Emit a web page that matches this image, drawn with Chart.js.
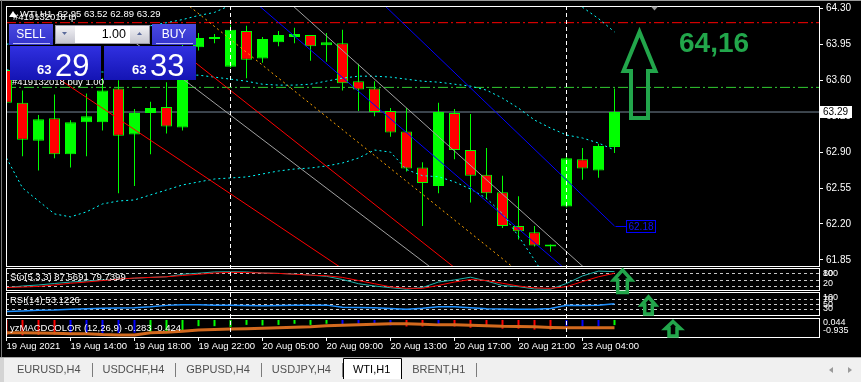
<!DOCTYPE html>
<html>
<head>
<meta charset="utf-8">
<script src="https://cdn.jsdelivr.net/npm/chart.js@4.4.1/dist/chart.umd.min.js"></script>
<style>
html, body { margin: 0; padding: 0; background: #000; overflow: hidden; }
canvas { display: block; }
</style>
</head>
<body>
<canvas id="chart" width="861" height="382"></canvas>
<script>
const timeLabels = ['19 Aug 2021', '19 Aug 14:00', '19 Aug 18:00', '19 Aug 22:00', '20 Aug 05:00',
  '20 Aug 09:00', '20 Aug 13:00', '20 Aug 17:00', '20 Aug 21:00', '23 Aug 04:00'];
const tickBars = [0, 4, 8, 12, 16, 20, 24, 28, 32, 36];
const separatorBars = [14, 35];
const priceTicks = [61.85, 62.20, 62.55, 62.90, 63.25, 63.60, 63.95, 64.30];

const opens = [63.70, 63.38, 63.01, 63.23, 62.88, 63.19, 63.19, 63.52, 63.07, 63.28, 63.34, 63.14, 63.92, 64.00, 63.73, 64.08, 63.81, 63.97, 64.02, 64.04, 63.94, 63.96, 63.59, 63.52, 63.30, 63.10, 62.75, 62.57, 63.28, 62.92, 62.68, 62.51, 62.18, 62.12, 61.98, 62.37, 62.83, 62.72, 62.95];
const highs = [63.78, 63.50, 63.26, 63.46, 63.21, 63.47, 63.62, 63.60, 63.32, 63.39, 63.58, 63.98, 64.06, 64.05, 64.14, 64.13, 64.02, 64.08, 64.11, 64.04, 64.06, 64.09, 63.76, 63.59, 63.33, 63.33, 62.80, 63.38, 63.32, 63.27, 62.94, 62.67, 62.47, 62.18, 62.00, 62.87, 62.94, 62.98, 63.52];
const lows = [63.33, 62.86, 62.72, 62.84, 62.75, 62.86, 63.11, 62.50, 62.57, 62.88, 63.08, 63.11, 63.89, 63.96, 63.72, 63.62, 63.77, 63.93, 63.96, 63.79, 63.78, 63.50, 63.30, 63.25, 63.05, 62.71, 62.18, 62.50, 62.83, 62.41, 62.44, 62.16, 62.05, 61.98, 61.93, 62.36, 62.63, 62.65, 62.89];
const closes = [63.38, 63.02, 63.22, 62.88, 63.19, 63.25, 63.50, 63.06, 63.28, 63.33, 63.15, 63.90, 64.01, 64.02, 64.09, 63.80, 64.00, 64.04, 64.05, 63.93, 63.97, 63.57, 63.51, 63.29, 63.09, 62.74, 62.60, 63.29, 62.92, 62.67, 62.50, 62.18, 62.13, 61.99, 62.00, 62.84, 62.74, 62.96, 63.29];

const bandUpper = [63.95, 63.97, 63.99, 64.01, 64.03, 64.05, 64.07, 64.09, 64.11, 64.13, 64.16, 64.19, 64.23, 64.26, 64.33, 64.39, 64.45, 64.48, 64.50, 64.52, 64.53, 64.54, 64.55, 64.55, 64.54, 64.53, 64.52, 64.50, 64.49, 64.47, 64.45, 64.43, 64.41, 64.40, 64.40, 64.36, 64.31, 64.20, 64.07];
const bandMiddle = [63.70, 63.70, 63.70, 63.69, 63.69, 63.68, 63.68, 63.67, 63.67, 63.66, 63.66, 63.65, 63.649, 63.63, 63.61, 63.59, 63.561, 63.552, 63.552, 63.561, 63.591, 63.62, 63.639, 63.639, 63.63, 63.61, 63.59, 63.581, 63.561, 63.542, 63.503, 63.425, 63.328, 63.212, 63.134, 63.066, 63.037, 62.988, 62.92];
const bandLower = [62.842, 62.551, 62.424, 62.298, 62.269, 62.318, 62.395, 62.424, 62.434, 62.483, 62.531, 62.58, 62.609, 62.638, 62.648, 62.658, 62.687, 62.716, 62.735, 62.745, 62.765, 62.794, 62.842, 62.92, 62.90, 62.73, 62.67, 62.66, 62.61, 62.54, 62.45, 62.30, 62.08, 61.85, 61.60, 61.45, 61.40, 61.38, 61.36];

const stochMain = [11, 19, 24, 31, 38, 43, 48, 52, 56, 60, 63, 75, 80, 86, 87, 86, 81, 79, 76, 71, 65, 50, 30, 19, 11, 4, 12, 38, 48, 61, 43, 21, 16, 5, 4, 31, 67, 90, 87.5691];
const stochSignal = [12, 14, 17, 24, 32, 38, 45, 52, 57, 60, 63, 69, 75, 81, 84, 83, 81, 79, 75, 71, 68, 60, 45, 30, 15, 8, 8, 22, 38, 50, 45, 32, 19, 10, 8, 16, 40, 63, 79.7399];
const stochLevels = [80, 50, 20];

const rsiValues = [21, 23, 26, 27, 30, 32, 34, 35, 36, 40, 46, 49, 49, 47, 47, 45, 44, 45, 47, 47, 47, 38, 37, 36, 33, 30, 34, 40, 40, 36, 32, 31, 30, 30, 33, 46, 45, 47, 53.1226];
const rsiLevels = [70, 50, 30];

const macdHist = [-0.84, -0.84, -0.82, -0.80, -0.75, -0.75, -0.75, -0.72, -0.70, -0.66, -0.60, -0.57, -0.34, -0.34, -0.39, -0.27, -0.30, -0.27, -0.21, -0.27, -0.21, -0.27, -0.21, -0.21, -0.30, -0.36, -0.36, -0.27, -0.36, -0.43, -0.39, -0.48, -0.48, -0.53, -0.53, -0.36, -0.36, -0.36, -0.283];
const macdState = ['r', 'r', 'r', 'r', 'b', 'b', 'b', 'b', 'b', 'g', 'g', 'g', 'g', 'g', 'g', 'g', 'g', 'g', 'g', 'g', 'g', 'b', 'b', 'b', 'b', 'r', 'r', 'b', 'r', 'r', 'r', 'r', 'r', 'r', 'r', 'b', 'b', 'b', 'g'];
const macdSignal = [-0.70, -0.70, -0.71, -0.73, -0.75, -0.76, -0.80, -0.82, -0.82, -0.70, -0.68, -0.62, -0.545, -0.52, -0.50, -0.48, -0.455, -0.43, -0.40, -0.375, -0.32, -0.295, -0.27, -0.24, -0.215, -0.215, -0.24, -0.27, -0.27, -0.295, -0.32, -0.35, -0.36, -0.375, -0.41, -0.43, -0.43, -0.43, -0.424];
const macdScaleLabels = ['0.044', '-0.935'];

const tpPrice = 64.16;
const entryPrice = 63.53;
const bidPrice = 63.29;
const askPrice = 63.33;

// trend line anchors: [bar, price]
const trendBlueUpper = [[20, 64.87], [38, 62.18]];
const trendBlueLower = [[15, 64.43], [35, 61.75]];
const trendRedUpper = [[11, 63.87], [36, 60.79]];
const trendRedLower = [[3, 63.64], [22, 61.66]];
const trendGrayA = [[8, 63.97], [27, 61.72]];
const trendGrayB = [[16, 64.59], [37, 61.65]];
const trendOrange = [[10, 64.50], [33, 61.61]];

const tabNames = ['EURUSD,H4', 'USDCHF,H4', 'GBPUSD,H4', 'USDJPY,H4', 'WTI,H1', 'BRENT,H1'];
const activeTab = 'WTI,H1';

// ---- layout ----
const FONT = '"Liberation Sans", Arial, sans-serif';
const AREA = { left: 6, right: 819, top: 6, bottom: 337 };
const PANELS = { y: [6, 266], yStoch: [268, 290], yRsi: [292, 315], yMacd: [318, 337] };
const X_MIN = -1 / 32;
const X_MAX = (AREA.right - AREA.left - 0.5) / 16;
const Y_MAX = 64.3224;
const Y_MIN = Y_MAX - 260 / 102.7;

const bars = opens.map((_, i) => i);
const bull = bars.map(i => closes[i] >= opens[i]);
const macdColorOf = { r: '#ff0000', b: '#0000ff', g: '#00ff00' };

function series(values, yAxisID, color, width, dash, order) {
  return {
    type: 'line', yAxisID, data: bars.map(i => ({ x: i, y: values[i] })),
    borderColor: color, borderWidth: width, borderDash: dash || [], pointRadius: 0,
    tension: 0, fill: false, order, clip: 0
  };
}

function segment(anchors, color, dash, order) {
  return {
    type: 'line', yAxisID: 'y', data: anchors.map(([x, y]) => ({ x, y })),
    borderColor: color, borderWidth: 1, borderDash: dash || [], pointRadius: 0,
    fill: false, order: order || 5, clip: 0
  };
}

const datasets = [
  segment([[X_MIN, tpPrice], [X_MAX, tpPrice]], '#ff0000', [10, 3, 2, 3], 10),
  segment([[X_MIN, entryPrice], [X_MAX, entryPrice]], '#32cd32', [10, 3, 2, 3], 10),
  segment([[X_MIN, bidPrice], [X_MAX, bidPrice]], '#778899', null, 10),
  {
    type: 'bar', yAxisID: 'y', data: bars.map(i => ({ x: i, y: [lows[i], highs[i]] })),
    backgroundColor: '#00ff00', borderWidth: 0, barThickness: 1, grouped: false,
    inflateAmount: 0, order: 9, clip: 0
  },
  {
    type: 'bar', yAxisID: 'y', data: bars.map(i => ({ x: i, y: [opens[i], closes[i]] })),
    backgroundColor: bars.map(i => bull[i] ? '#00ff00' : '#ff0000'),
    borderColor: '#00ff00', borderWidth: 1, borderSkipped: false, barThickness: 11,
    grouped: false, minBarLength: 1, inflateAmount: 0, order: 8, clip: 0
  },
  series(bandUpper, 'y', '#00ffff', 1, [2, 3], 6),
  series(bandMiddle, 'y', '#00ffff', 1, [2, 3], 6),
  series(bandLower, 'y', '#00ffff', 1, [2, 3], 6),
  segment(trendRedUpper, '#ff0000'),
  segment(trendRedLower, '#ff0000'),
  segment(trendGrayA, '#a0a0a0'),
  segment(trendGrayB, '#a0a0a0'),
  segment(trendBlueUpper, '#0000ff'),
  segment(trendBlueLower, '#0000ff'),
  segment(trendOrange, '#ffa500', [2, 3]),
  series(stochSignal, 'yStoch', '#ff0000', 1, null, 3),
  series(stochMain, 'yStoch', '#20b2aa', 1, null, 3),
  series(rsiValues, 'yRsi', '#1e90ff', 1.5, null, 3),
  {
    type: 'bar', yAxisID: 'yMacd', data: bars.map(i => ({ x: i, y: macdHist[i] })),
    backgroundColor: bars.map(i => macdColorOf[macdState[i]]), borderWidth: 0,
    barThickness: 2, grouped: false, inflateAmount: 0, order: 4, clip: 0
  },
  series(macdSignal, 'yMacd', '#d2691e', 3, null, 2)
];

// ---- plugins ----
const layoutPlugin = {
  id: 'mtLayout',
  afterLayout(chart) {
    const ca = chart.chartArea;
    ca.left = AREA.left; ca.right = AREA.right; ca.top = AREA.top; ca.bottom = AREA.bottom;
    ca.width = ca.right - ca.left; ca.height = ca.bottom - ca.top;
    const x = chart.scales.x;
    x.left = AREA.left; x.right = AREA.right; x.width = x.right - x.left;
    x.top = AREA.bottom; x.bottom = AREA.bottom + 17; x.height = 17;
    x.configure();
    for (const id in PANELS) {
      const s = chart.scales[id];
      s.top = PANELS[id][0]; s.bottom = PANELS[id][1]; s.height = s.bottom - s.top;
      if (id === 'y') { s.left = AREA.right; s.right = chart.width; s.width = s.right - s.left; }
      s.configure();
    }
  }
};

function arrow(c, cx, tipY, headHalf, headY, shaftHalf, bottomY, lw) {
  c.save();
  c.strokeStyle = '#22a64b'; c.lineWidth = lw; c.lineJoin = 'miter';
  c.beginPath();
  c.moveTo(cx, tipY);
  c.lineTo(cx + headHalf, headY);
  c.lineTo(cx + shaftHalf, headY);
  c.lineTo(cx + shaftHalf, bottomY);
  c.lineTo(cx - shaftHalf, bottomY);
  c.lineTo(cx - shaftHalf, headY);
  c.lineTo(cx - headHalf, headY);
  c.closePath();
  c.stroke();
  c.restore();
}

function gradRect(c, x, y, w, h, top, bot) {
  const g = c.createLinearGradient(0, y, 0, y + h);
  g.addColorStop(0, top); g.addColorStop(1, bot);
  c.fillStyle = g; c.fillRect(x, y, w, h);
}

function drawTradePanel(c) {
  gradRect(c, 9, 24, 44, 21, '#4a4ae0', '#3232cc');
  gradRect(c, 152, 24, 44, 21, '#4a4ae0', '#3232cc');
  gradRect(c, 10, 46, 91, 34, '#3030e0', '#1414b4');
  gradRect(c, 104, 46, 92, 34, '#3030e0', '#1414b4');
  c.fillStyle = '#b8b8f4';
  c.fillRect(13, 43, 37, 1); c.fillRect(156, 43, 37, 1);
  gradRect(c, 55, 25, 20, 19, '#f4f4f8', '#c4c4ce');
  gradRect(c, 130, 25, 20, 19, '#f4f4f8', '#c4c4ce');
  c.fillStyle = '#fff'; c.fillRect(75, 25, 55, 19);
  c.strokeStyle = '#9a9aa8'; c.lineWidth = 1;
  c.strokeRect(55.5, 25.5, 94, 18);
  c.fillStyle = '#5a6a9a';
  c.beginPath(); c.moveTo(62, 32); c.lineTo(67, 32); c.lineTo(64.5, 35); c.closePath(); c.fill();
  c.beginPath(); c.moveTo(137, 35); c.lineTo(142, 35); c.lineTo(139.5, 32); c.closePath(); c.fill();

  c.fillStyle = '#fff'; c.textBaseline = 'middle'; c.textAlign = 'center';
  c.font = `12px ${FONT}`;
  c.fillText('SELL', 31, 34.5);
  c.fillText('BUY', 174, 34.5);
  c.fillStyle = '#000'; c.textAlign = 'right'; c.font = `12.5px ${FONT}`;
  c.fillText('1.00', 126, 34.5);

  c.fillStyle = '#fff'; c.textAlign = 'left'; c.textBaseline = 'alphabetic';
  const bidParts = bidPrice.toFixed(2).split('.');
  const askParts = askPrice.toFixed(2).split('.');
  c.font = `bold 13px ${FONT}`;
  c.fillText(bidParts[0], 37, 73.5);
  c.fillText(askParts[0], 132, 73.5);
  c.font = `31px ${FONT}`;
  c.fillText(bidParts[1], 55, 75.5);
  c.fillText(askParts[1], 150, 75.5);
}

function drawTabs(c, w) {
  c.fillStyle = '#f0f0f0'; c.fillRect(0, 357, w, 25);
  c.fillStyle = '#a8a8a8'; c.fillRect(0, 357, w, 1);
  c.fillStyle = '#d4d4d4'; c.fillRect(0, 358, 4, 24);
  c.font = `11px ${FONT}`; c.textBaseline = 'middle'; c.textAlign = 'left';
  let x = 17;
  tabNames.forEach((name) => {
    const tw = c.measureText(name).width;
    const isActive = name === activeTab;
    const left = x - 10, right = x + tw + 11;
    if (isActive) {
      c.fillStyle = '#fff'; c.fillRect(left, 358, right - left, 21);
      c.strokeStyle = '#000'; c.lineWidth = 1;
      c.beginPath();
      c.moveTo(Math.round(left) + 0.5, 379); c.lineTo(Math.round(left) + 0.5, 358.5);
      c.lineTo(Math.round(right) + 0.5, 358.5); c.lineTo(Math.round(right) + 0.5, 379);
      c.stroke();
    } else {
      c.fillStyle = '#7c7c7c'; c.fillRect(Math.round(right), 363, 1, 14);
    }
    c.fillStyle = isActive ? '#000' : '#505050';
    c.fillText(name, x, 370);
    x = right + 11;
  });
  c.fillStyle = '#9a9a9a';
  c.beginPath(); c.moveTo(829, 370); c.lineTo(833, 367); c.lineTo(833, 373); c.closePath(); c.fill();
  c.beginPath(); c.moveTo(852, 370); c.lineTo(848, 367); c.lineTo(848, 373); c.closePath(); c.fill();
}

const decorPlugin = {
  id: 'mtDecor',
  beforeDraw(chart) {
    const c = chart.ctx;
    c.save();
    c.fillStyle = '#000'; c.fillRect(0, 0, chart.width, chart.height);
    c.fillStyle = '#9a9a9a'; c.fillRect(0, 0, chart.width, 1);
    c.fillStyle = '#7a7a7a'; c.fillRect(1, 0, 1, 357);
    c.restore();
  },
  beforeDatasetsDraw(chart) {
    const c = chart.ctx;
    c.save();
    c.strokeStyle = '#c8c8c8'; c.lineWidth = 1; c.setLineDash([3, 3]);
    [['yStoch', stochLevels], ['yRsi', rsiLevels]].forEach(([id, levels]) => {
      const s = chart.scales[id];
      levels.forEach(v => {
        const y = Math.round(s.getPixelForValue(v)) + 0.5;
        c.beginPath(); c.moveTo(AREA.left, y); c.lineTo(AREA.right, y); c.stroke();
      });
    });
    c.restore();
  },
  afterDatasetsDraw(chart) {
    const c = chart.ctx;
    const xs = chart.scales.x;
    c.save();
    c.strokeStyle = '#ffffff'; c.lineWidth = 1; c.setLineDash([4, 3]);
    separatorBars.forEach(b => {
      const x = Math.floor(xs.getPixelForValue(b)) + 0.5;
      c.beginPath(); c.moveTo(x, AREA.top); c.lineTo(x, AREA.bottom); c.stroke();
    });
    c.setLineDash([]);
    Object.values(PANELS).forEach(([t, b]) => {
      c.strokeRect(AREA.left + 0.5, t + 0.5, AREA.right - AREA.left, b - t);
    });
    c.restore();
  },
  afterDraw(chart) {
    const c = chart.ctx;
    const xs = chart.scales.x, ys = chart.scales.y;
    c.save();

    // blue trend line price tag
    const lastBlue = trendBlueUpper[trendBlueUpper.length - 1];
    const tx = Math.round(xs.getPixelForValue(lastBlue[0])) + 0.5;
    const ty = Math.round(ys.getPixelForValue(lastBlue[1])) + 0.5;
    c.strokeStyle = '#0000ff'; c.lineWidth = 1;
    c.beginPath(); c.moveTo(tx, ty); c.lineTo(tx + 11, ty); c.stroke();
    c.strokeRect(tx + 11, ty - 6, 29, 12);
    c.fillStyle = '#1010ff'; c.font = `10px ${FONT}`; c.textBaseline = 'middle'; c.textAlign = 'left';
    c.fillText(lastBlue[1].toFixed(2), tx + 13, ty + 0.5);

    // bid tag on price axis
    const by = Math.round(ys.getPixelForValue(bidPrice));
    c.fillStyle = '#fff'; c.fillRect(820, by - 6, 32, 12);
    c.fillStyle = '#000'; c.fillText(bidPrice.toFixed(2), 823, by + 0.5);

    // chart shift marker
    c.fillStyle = '#9a9a9a';
    c.beginPath(); c.moveTo(651, 6.5); c.lineTo(658, 6.5); c.lineTo(654.5, 10.5); c.closePath(); c.fill();

    // header texts
    const last = bars.length - 1;
    c.fillStyle = '#fff'; c.font = `9.5px ${FONT}`;
    c.beginPath(); c.moveTo(9, 17); c.lineTo(13, 11); c.lineTo(17, 17); c.closePath(); c.fill();
    c.fillText('WTI,H1  ' + [opens[last], highs[last], lows[last], closes[last]].map(v => v.toFixed(2)).join(' '), 20, 14);
    c.fillText('#419132018 tp', 13, 17);
    c.fillText('#419132018 buy 1.00', 12, 82);

    drawTradePanel(c);

    // indicator titles
    c.fillStyle = '#fff'; c.font = `9.5px ${FONT}`; c.textAlign = 'left'; c.textBaseline = 'middle';
    c.fillText('Sto(5,3,3) ' + stochMain[last].toFixed(4) + ' ' + stochSignal[last].toFixed(4), 10, 277.5);
    c.fillText('RSI(14) ' + rsiValues[last].toFixed(4), 10, 300.5);
    c.fillText('yzMACDCOLOR (12,26,9) ' + macdHist[last].toFixed(3) + ' ' + macdSignal[last].toFixed(3), 10, 328);

    // indicator scale labels
    c.font = `9px ${FONT}`;
    const sideLabel = (id, vals, pad) => {
      const s = chart.scales[id];
      vals.forEach(v => {
        const y = Math.min(Math.max(s.getPixelForValue(v), s.top + pad), s.bottom - pad);
        c.fillText(String(v), 823, y);
      });
    };
    sideLabel('yStoch', [100, 80, 20], 6);
    sideLabel('yRsi', [100, 70, 50, 30], 6);
    c.fillText(macdScaleLabels[0], 823, 322.5);
    c.fillText(macdScaleLabels[1], 823, 330.5);

    // target annotation
    arrow(c, 639.5, 32, 16, 71, 8.5, 118, 4);
    arrow(c, 622.5, 270, 9, 280, 4.8, 292.5, 3.5);
    arrow(c, 648.5, 297, 7, 305, 3.8, 314, 3.5);
    arrow(c, 673, 321.5, 7.5, 328.5, 4, 336, 3.5);
    c.fillStyle = '#22a64b'; c.font = `bold 28px ${FONT}`; c.textBaseline = 'alphabetic';
    c.fillText(tpPrice.toFixed(2).replace('.', ','), 679, 52);

    drawTabs(c, chart.width);
    c.restore();
  }
};

new Chart(document.getElementById('chart'), {
  type: 'bar',
  data: { datasets },
  options: {
    responsive: false,
    animation: false,
    events: [],
    layout: { padding: { left: 6, top: 6, right: 0, bottom: 28 } },
    plugins: { legend: { display: false }, tooltip: { enabled: false } },
    scales: {
      x: {
        type: 'linear', min: X_MIN, max: X_MAX, position: 'bottom', offset: false,
        afterBuildTicks: s => { s.ticks = tickBars.map(v => ({ value: v })); },
        afterFit: s => { s.height = 17; },
        ticks: {
          autoSkip: false, maxRotation: 0, align: 'start', padding: 0, color: '#fff',
          font: { family: FONT, size: 9.5 }, callback: (v, i) => timeLabels[i]
        },
        grid: { offset: false, drawOnChartArea: false, drawTicks: true, tickLength: 4, color: '#fff' },
        border: { display: false }
      },
      y: {
        type: 'linear', position: 'right', min: Y_MIN, max: Y_MAX,
        afterBuildTicks: s => { s.ticks = priceTicks.map(v => ({ value: v })); },
        afterFit: s => { s.width = 42; },
        ticks: { color: '#fff', padding: 3, font: { family: FONT, size: 10 }, callback: v => v.toFixed(2) },
        grid: { drawOnChartArea: false, drawTicks: true, tickLength: 4, color: '#fff' },
        border: { display: false }
      },
      yStoch: { type: 'linear', display: false, min: 0, max: 104.8 },
      yRsi: { type: 'linear', display: false, min: 6.7, max: 100.6 },
      yMacd: { type: 'linear', display: false, min: -0.935, max: 0.107 }
    }
  },
  plugins: [layoutPlugin, decorPlugin]
});
</script>
</body>
</html>
